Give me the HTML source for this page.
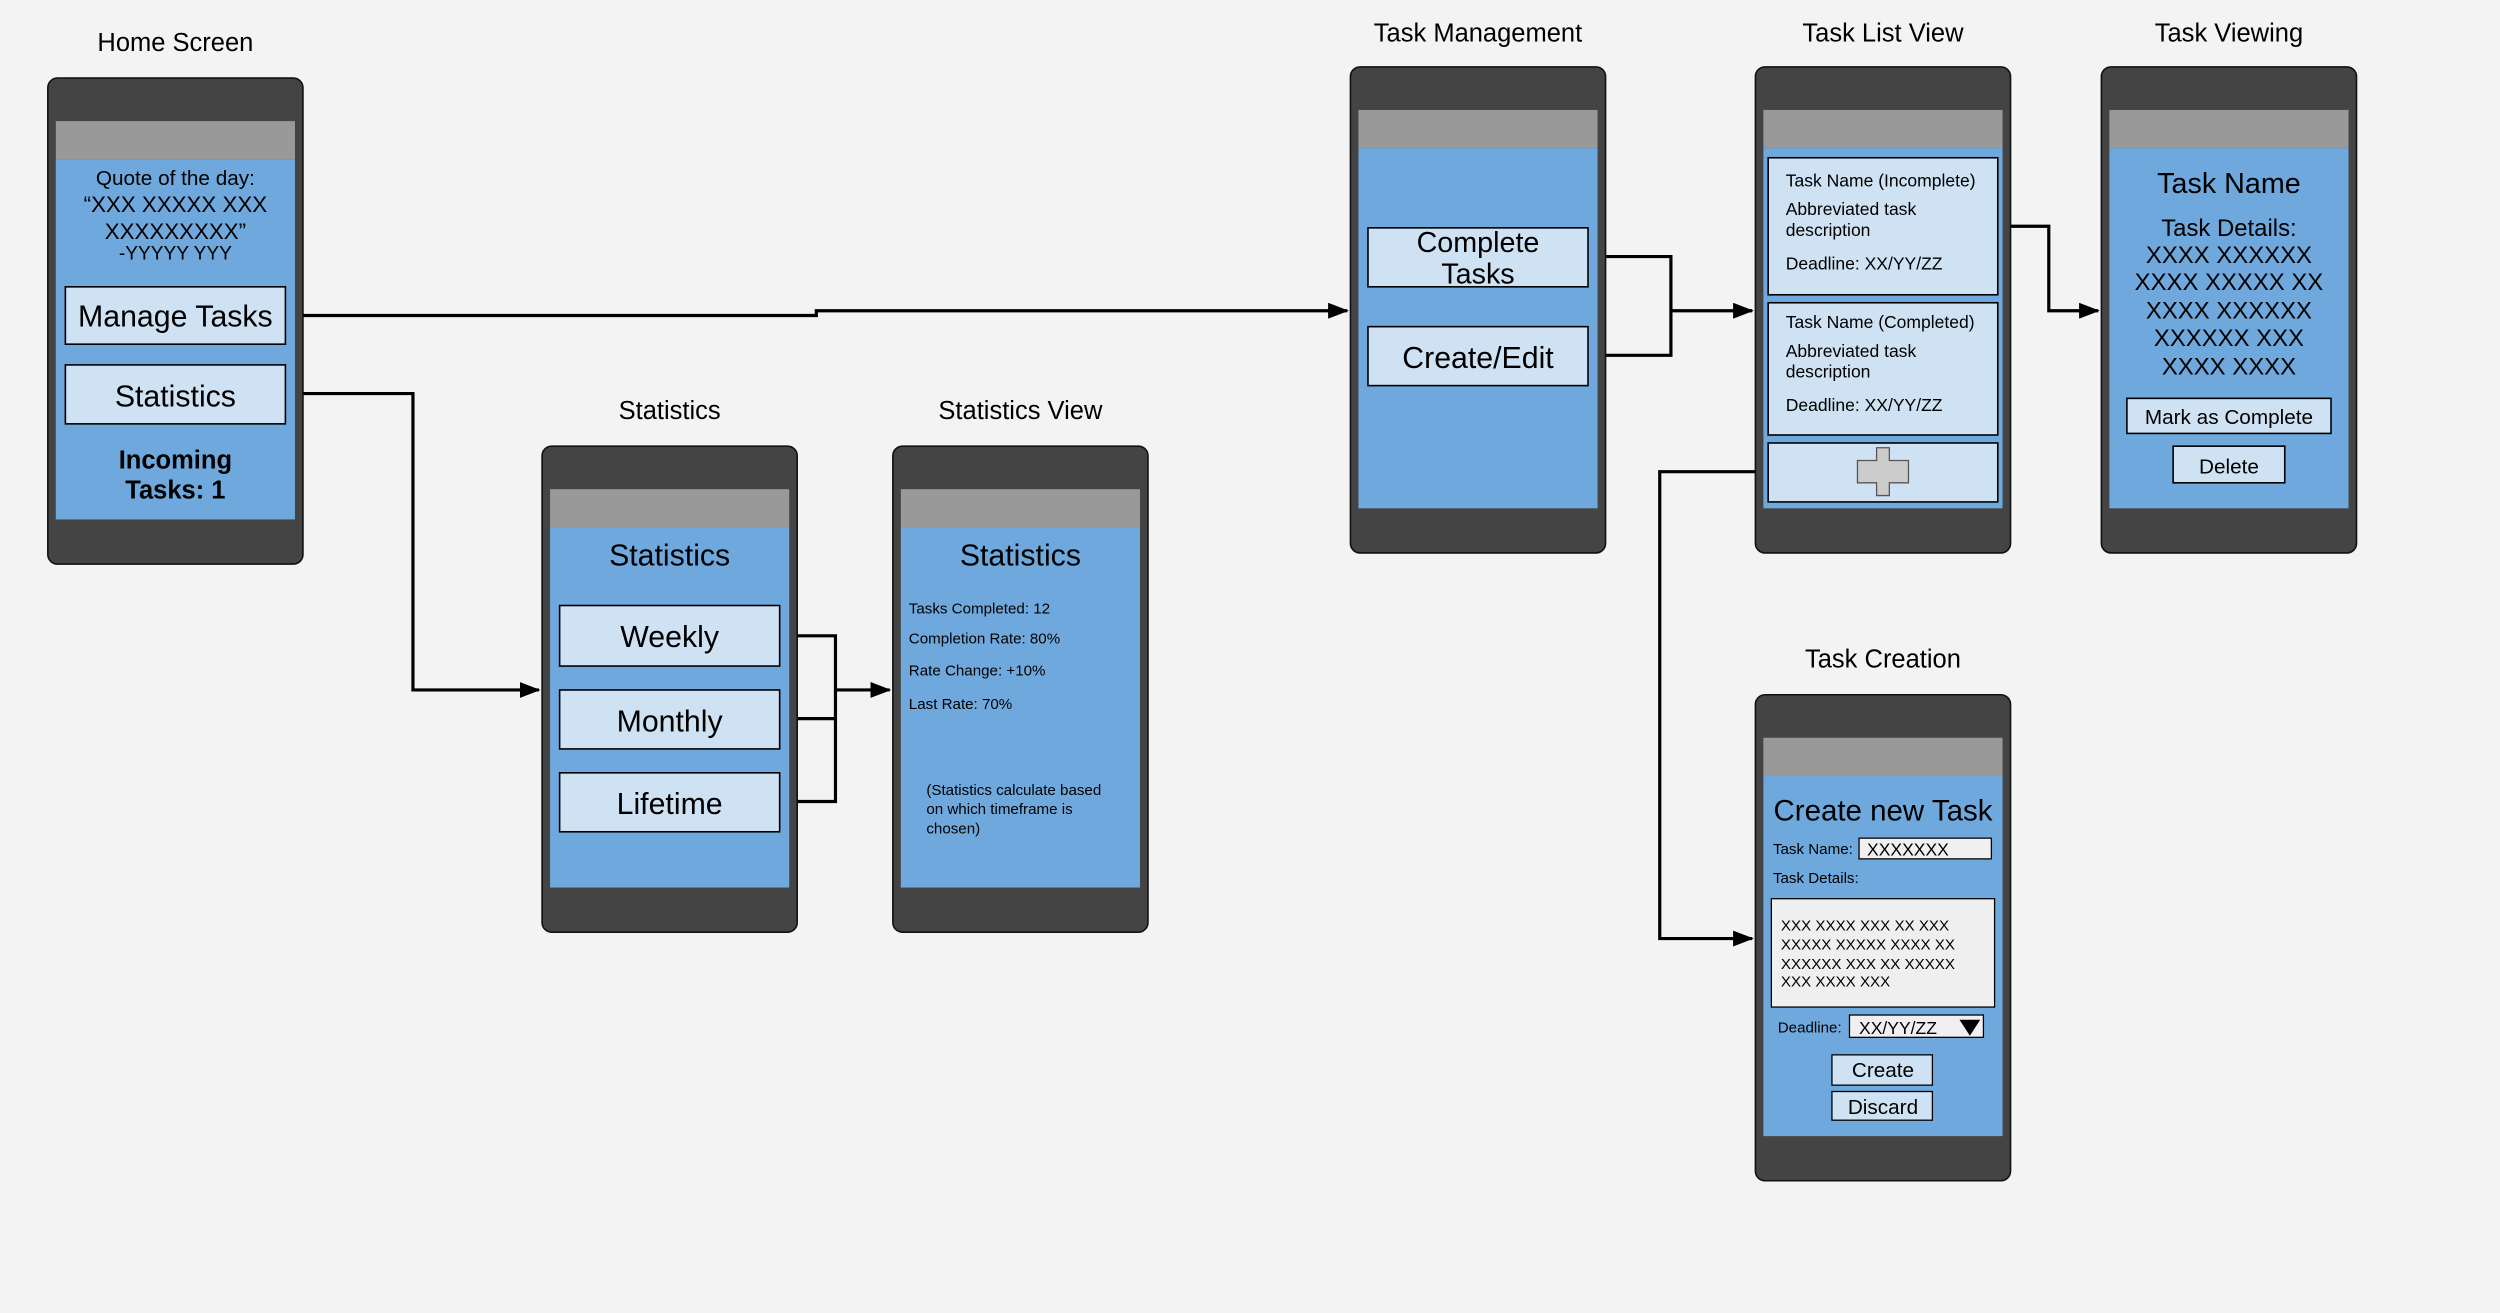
<!DOCTYPE html>
<html><head><style>
html,body{margin:0;padding:0;background:#f3f3f3;width:2500px;height:1313px;overflow:hidden}
svg{display:block}
text{font-family:"Liberation Sans",Arial,sans-serif;fill:#000}
</style></head><body>
<svg width="2500" height="1313" viewBox="0 0 1568 824" preserveAspectRatio="none" xmlns="http://www.w3.org/2000/svg">
<defs>
<marker id="a" markerWidth="13" markerHeight="10" refX="12" refY="5" orient="auto" markerUnits="userSpaceOnUse"><path d="M0,0 L13,5 L0,10 z" fill="#000"/></marker>
<g id="ph">
<rect x="0" y="0" width="160" height="305" rx="6" fill="#444" stroke="#111" stroke-width="1"/>
<rect x="5" y="27" width="150" height="24" fill="#999"/>
<rect x="5" y="51" width="150" height="226" fill="#6fa8dc"/>
</g>
</defs>
<rect width="1568" height="824" fill="#f3f3f3"/>

<g fill="none" stroke="#000" stroke-width="2">
<path d="M180,198 H512 V195 H845" marker-end="url(#a)"/>
<path d="M180,247 H259 V433 H338" marker-end="url(#a)"/>
<path d="M489,399 H524 V503 H489 M489,451 H524 M524,433 H558" marker-end="url(#a)"/>
<path d="M996,161 H1048 V223 H996 M1048,195 H1099" marker-end="url(#a)"/>
<path d="M1253,142 H1285 V195 H1316" marker-end="url(#a)"/>
<path d="M1109,296 H1041 V589 H1099" marker-end="url(#a)"/>
</g>

<text x="110" y="32" font-size="16" text-anchor="middle">Home Screen</text>
<use href="#ph" x="30" y="49"/>
<g font-size="13" text-anchor="middle">
<text x="110" y="116">Quote of the day:</text>
<text x="110" y="133" font-size="14">“XXX XXXXX XXX</text>
<text x="110" y="150" font-size="14">XXXXXXXXX”</text>
<text x="110" y="163" font-size="12">-YYYYY YYY</text>
</g>
<rect x="41" y="180" width="138" height="36" fill="#cfe2f3" stroke="#000" stroke-width="1"/>
<text x="110" y="205" font-size="19" text-anchor="middle">Manage Tasks</text>
<rect x="41" y="229" width="138" height="37" fill="#cfe2f3" stroke="#000" stroke-width="1"/>
<text x="110" y="255" font-size="19" text-anchor="middle">Statistics</text>
<text x="110" y="294" font-size="16" font-weight="bold" text-anchor="middle">Incoming</text>
<text x="110" y="313" font-size="16" font-weight="bold" text-anchor="middle">Tasks: 1</text>

<text x="420" y="263" font-size="16" text-anchor="middle">Statistics</text>
<use href="#ph" x="340" y="280"/>
<text x="420" y="355" font-size="19" text-anchor="middle">Statistics</text>
<g fill="#cfe2f3" stroke="#000" stroke-width="1">
<rect x="351" y="380" width="138" height="38"/>
<rect x="351" y="433" width="138" height="37"/>
<rect x="351" y="485" width="138" height="37"/>
</g>
<g font-size="19" text-anchor="middle">
<text x="420" y="406">Weekly</text>
<text x="420" y="459">Monthly</text>
<text x="420" y="511">Lifetime</text>
</g>

<text x="640" y="263" font-size="16" text-anchor="middle">Statistics View</text>
<use href="#ph" x="560" y="280"/>
<text x="640" y="355" font-size="19" text-anchor="middle">Statistics</text>
<g font-size="9.5">
<text x="570" y="385">Tasks Completed: 12</text>
<text x="570" y="404">Completion Rate: 80%</text>
<text x="570" y="424">Rate Change: +10%</text>
<text x="570" y="445">Last Rate: 70%</text>
<text x="581" y="499">(Statistics calculate based</text>
<text x="581" y="511">on which timeframe is</text>
<text x="581" y="523">chosen)</text>
</g>

<text x="927" y="26" font-size="16" text-anchor="middle">Task Management</text>
<use href="#ph" x="847" y="42"/>
<rect x="858" y="143" width="138" height="37" fill="#cfe2f3" stroke="#000" stroke-width="1"/>
<text x="927" y="158" font-size="18" text-anchor="middle">Complete</text>
<text x="927" y="178" font-size="18" text-anchor="middle">Tasks</text>
<rect x="858" y="205" width="138" height="37" fill="#cfe2f3" stroke="#000" stroke-width="1"/>
<text x="927" y="231" font-size="19" text-anchor="middle">Create/Edit</text>

<text x="1181" y="26" font-size="16" text-anchor="middle">Task List View</text>
<use href="#ph" x="1101" y="42"/>
<g fill="#cfe2f3" stroke="#000" stroke-width="1">
<rect x="1109" y="99" width="144" height="86"/>
<rect x="1109" y="190" width="144" height="83"/>
<rect x="1109" y="278" width="144" height="37"/>
</g>
<g font-size="11">
<text x="1120" y="117">Task Name (Incomplete)</text>
<text x="1120" y="135">Abbreviated task</text>
<text x="1120" y="148">description</text>
<text x="1120" y="169">Deadline: XX/YY/ZZ</text>
<text x="1120" y="206">Task Name (Completed)</text>
<text x="1120" y="224">Abbreviated task</text>
<text x="1120" y="237">description</text>
<text x="1120" y="258">Deadline: XX/YY/ZZ</text>
</g>
<path d="M1177,281 H1185 V289 H1197 V303 H1185 V311 H1177 V303 H1165 V289 H1177 Z" fill="#ccc" stroke="#555" stroke-width="0.8"/>

<text x="1398" y="26" font-size="16" text-anchor="middle">Task Viewing</text>
<use href="#ph" x="1318" y="42"/>
<g text-anchor="middle">
<text x="1398" y="121" font-size="18">Task Name</text>
<text x="1398" y="148" font-size="15">Task Details:</text>
<text x="1398" y="165" font-size="15">XXXX XXXXXX</text>
<text x="1398" y="182" font-size="15">XXXX XXXXX XX</text>
<text x="1398" y="200" font-size="15">XXXX XXXXXX</text>
<text x="1398" y="217" font-size="15">XXXXXX XXX</text>
<text x="1398" y="235" font-size="15">XXXX XXXX</text>
</g>
<rect x="1334" y="250" width="128" height="22" fill="#cfe2f3" stroke="#000" stroke-width="1"/>
<text x="1398" y="266" font-size="13" text-anchor="middle">Mark as Complete</text>
<rect x="1363" y="280" width="70" height="23" fill="#cfe2f3" stroke="#000" stroke-width="1"/>
<text x="1398" y="297" font-size="13" text-anchor="middle">Delete</text>

<text x="1181" y="419" font-size="16" text-anchor="middle">Task Creation</text>
<use href="#ph" x="1101" y="436"/>
<text x="1181" y="515" font-size="18.5" text-anchor="middle">Create new Task</text>
<text x="1112" y="536" font-size="9.5">Task Name:</text>
<rect x="1166" y="526" width="83" height="13" fill="#f0f0f0" stroke="#000" stroke-width="0.8"/>
<text x="1171" y="537" font-size="11">XXXXXXX</text>
<text x="1112" y="554" font-size="9.5">Task Details:</text>
<rect x="1111" y="564" width="140" height="68" fill="#efefef" stroke="#000" stroke-width="0.8"/>
<g font-size="9.5">
<text x="1117" y="584">XXX XXXX XXX XX XXX</text>
<text x="1117" y="596">XXXXX XXXXX XXXX XX</text>
<text x="1117" y="608">XXXXXX XXX XX XXXXX</text>
<text x="1117" y="619">XXX XXXX XXX</text>
</g>
<text x="1115" y="648" font-size="9.5">Deadline:</text>
<rect x="1160" y="637" width="84" height="14" fill="#f0f0f0" stroke="#000" stroke-width="0.8"/>
<text x="1166" y="649" font-size="11">XX/YY/ZZ</text>
<path d="M1229,640 H1242 L1235.5,650 Z" fill="#000"/>
<rect x="1149" y="662" width="63" height="19" fill="#cfe2f3" stroke="#000" stroke-width="0.8"/>
<text x="1181" y="676" font-size="13" text-anchor="middle">Create</text>
<rect x="1149" y="685" width="63" height="18" fill="#cfe2f3" stroke="#000" stroke-width="0.8"/>
<text x="1181" y="699" font-size="13" text-anchor="middle">Discard</text>
</svg>
</body></html>
